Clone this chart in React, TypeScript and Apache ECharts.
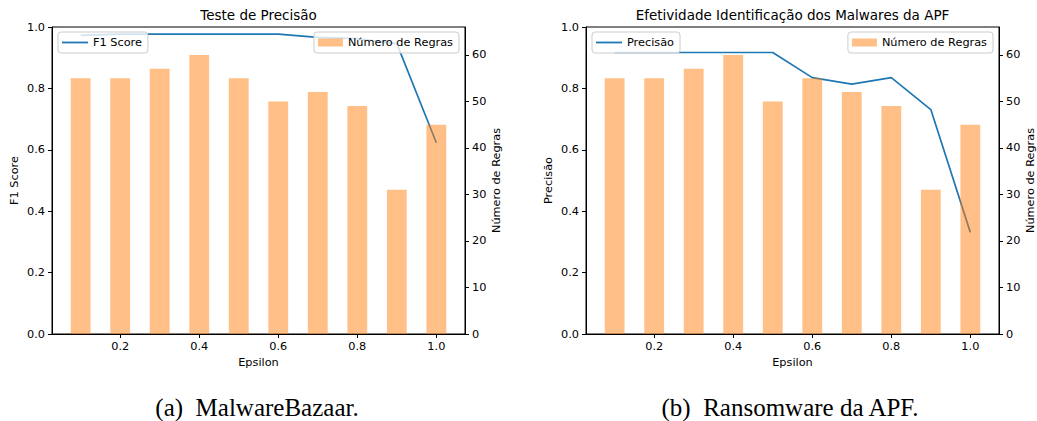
import React, { useEffect, useRef } from "react";
import * as echarts from "echarts";

const EPSILON = [0.1, 0.2, 0.3, 0.4, 0.5, 0.6, 0.7, 0.8, 0.9, 1.0];
const F1_SCORE = [0.973, 0.977, 0.977, 0.977, 0.977, 0.977, 0.966, 0.962, 0.946, 0.623];
const PRECISAO = [0.917, 0.917, 0.917, 0.917, 0.917, 0.835, 0.814, 0.835, 0.731, 0.331];
const REGRAS_A = [55, 55, 57, 60, 55, 50, 52, 49, 31, 45];
const REGRAS_B = [55, 55, 57, 60, 50, 55, 52, 49, 31, 45];
const X_TICKS = [0.2, 0.4, 0.6, 0.8, 1.0];
const RIGHT_TICKS = [0, 10, 20, 30, 40, 50, 60];
const TITLES = ["Teste de Precisão", "Efetividade Identificação dos Malwares da APF"];
const LINE_NAMES = ["F1 Score", "Precisão"];
const BAR_NAME = "Número de Regras";
const CAPTIONS = ["(a)\u2002MalwareBazaar.", "(b)\u2002Ransomware da APF."];

const FONT = "DejaVu Sans";
const FS = 11.3;
const BLUE = "#1f77b4";
const ORANGE = "rgba(255,127,14,0.5)";

const GRIDS = [
  { left: 52, top: 27, width: 413, height: 307 },
  { left: 586, top: 27, width: 413, height: 307 },
];

export default function App() {
  const ref = useRef<HTMLDivElement>(null);
  useEffect(() => {
    if (!ref.current) return;
    const chart = echarts.init(ref.current, null, { renderer: "svg" });
    const textStyle = { fontFamily: FONT, fontSize: FS, color: "#000" };
    const xAxis: any[] = [];
    const yAxis: any[] = [];
    const series: any[] = [];
    const legend: any[] = [];
    const graphic: any[] = [];
    const lines = [F1_SCORE, PRECISAO];
    const bars = [REGRAS_A, REGRAS_B];
    GRIDS.forEach((g, i) => {
      xAxis.push({
        type: "value",
        gridIndex: i,
        min: 0.0275,
        max: 1.0725,
        name: "Epsilon",
        nameLocation: "middle",
        nameGap: 23,
        nameTextStyle: textStyle,
        axisLine: { show: true, onZero: false, lineStyle: { color: "#000", width: 1 } },
        axisTick: { show: true, length: 4, customValues: X_TICKS, lineStyle: { color: "#000", width: 1 } },
        axisLabel: { ...textStyle, margin: 7, customValues: X_TICKS, formatter: (v: number) => v.toFixed(1) },
        splitLine: { show: false },
      });
      yAxis.push({
        type: "value",
        gridIndex: i,
        position: "left",
        min: 0,
        max: 1,
        interval: 0.2,
        name: LINE_NAMES[i],
        nameLocation: "middle",
        nameGap: 32,
        nameTextStyle: textStyle,
        axisLine: { show: true, onZero: false, lineStyle: { color: "#000", width: 1 } },
        axisTick: { show: true, length: 4, lineStyle: { color: "#000", width: 1 } },
        axisLabel: { ...textStyle, margin: 7, formatter: (v: number) => v.toFixed(1) },
        splitLine: { show: false },
      });
      yAxis.push({
        type: "value",
        gridIndex: i,
        position: "right",
        min: 0,
        max: 66,
        name: BAR_NAME,
        nameLocation: "middle",
        nameGap: 26,
        nameTextStyle: textStyle,
        axisLine: { show: true, onZero: false, lineStyle: { color: "#000", width: 1 } },
        axisTick: { show: true, length: 4, customValues: RIGHT_TICKS, lineStyle: { color: "#000", width: 1 } },
        axisLabel: { ...textStyle, margin: 7, customValues: RIGHT_TICKS },
        splitLine: { show: false },
      });
      series.push({
        type: "line",
        name: LINE_NAMES[i],
        xAxisIndex: i,
        yAxisIndex: i * 2,
        data: EPSILON.map((e, k) => [e, lines[i][k]]),
        symbol: "none",
        showSymbol: false,
        lineStyle: { color: BLUE, width: 1.7 },
        itemStyle: { color: BLUE },
        z: 1,
      });
      series.push({
        type: "bar",
        name: BAR_NAME,
        xAxisIndex: i,
        yAxisIndex: i * 2 + 1,
        data: EPSILON.map((e, k) => [e, bars[i][k]]),
        barWidth: 19.8,
        itemStyle: { color: ORANGE },
        z: 2,
      });
      const legendCommon = {
        orient: "horizontal",
        top: 32,
        backgroundColor: "rgba(255,255,255,0.8)",
        borderColor: "#cccccc",
        borderWidth: 1,
        borderRadius: 3,
        selectedMode: false,
        textStyle: { ...textStyle },
        z: 5,
      };
      legend.push({
        ...legendCommon,
        left: g.left + 6,
        data: [{ name: LINE_NAMES[i], icon: "rect" }],
        itemWidth: 26,
        itemHeight: 1.8,
        padding: [5, 6, 5, 4],
      });
      legend.push({
        ...legendCommon,
        right: 1037 - (g.left + g.width - 6),
        data: [{ name: BAR_NAME, icon: "rect" }],
        itemWidth: 25,
        itemHeight: 8,
        padding: [5, 6, 5, 4],
      });
      const cx = g.left + g.width / 2;
      graphic.push({
        type: "text",
        x: cx,
        y: 15,
        style: { text: TITLES[i], font: `13.5px "${FONT}"`, fill: "#000", align: "center", verticalAlign: "middle" },
      });
      graphic.push({
        type: "text",
        x: i === 0 ? 257 : 790,
        y: 407,
        style: { text: CAPTIONS[i], font: `25px "Liberation Serif"`, fill: "#000", align: "center", verticalAlign: "middle" },
      });
    });
    chart.setOption({
      animation: false,
      backgroundColor: "#fff",
      textStyle: { fontFamily: FONT },
      grid: GRIDS.map((g) => ({ ...g, show: true, borderColor: "#000", borderWidth: 1, backgroundColor: "transparent" })),
      xAxis,
      yAxis,
      series,
      legend,
      graphic,
    });
    return () => chart.dispose();
  }, []);
  return <div ref={ref} style={{ position: "absolute", left: 0, top: 0, width: 1037, height: 421 }} />;
}
